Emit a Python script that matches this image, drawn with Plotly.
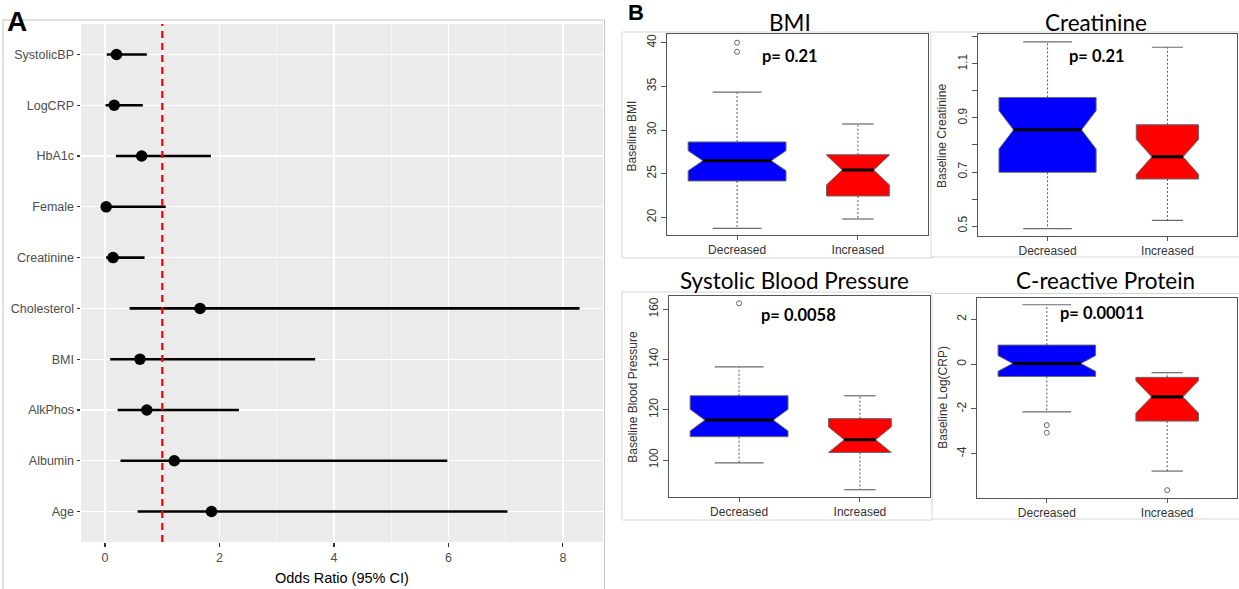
import plotly.graph_objects as go

W, H = 1239, 589


def fx(p):
    return p / W


def fy(p):
    return 1 - p / H


ARIAL = "Liberation Sans, Arial, sans-serif"
CAL = "Lato, Carlito, Calibri, sans-serif"

# ---------------- Panel A data (forest plot) ----------------
predictors = ["SystolicBP", "LogCRP", "HbA1c", "Female", "Creatinine",
              "Cholesterol", "BMI", "AlkPhos", "Albumin", "Age"]
odds_ratio = [0.20, 0.16, 0.64, 0.02, 0.14, 1.66, 0.61, 0.73, 1.21, 1.86]
ci_lower = [0.03, 0.01, 0.19, 0.00, 0.02, 0.43, 0.09, 0.22, 0.27, 0.57]
ci_upper = [0.73, 0.66, 1.85, 1.06, 0.69, 8.29, 3.67, 2.34, 5.98, 7.03]
or_ticks = [0, 2, 4, 6, 8]
or_reference = 1

# ---------------- Panel B data (notched box plots) ----------------
groups = ["Decreased", "Increased"]
group_colors = ["#0000FF", "#FF0000"]
group_widths = [0.81, 0.52]
group_notchwidths = [0.15, 0.25]

bmi_q1 = [24.16, 22.44]
bmi_median = [26.48, 25.42]
bmi_q3 = [28.63, 27.17]
bmi_lower = [18.74, 19.80]
bmi_upper = [34.35, 30.69]
bmi_notch = [1.15, 1.70]
bmi_outliers = [[38.97, 40.0], []]
bmi_ticks = [20, 25, 30, 35, 40]
bmi_ticktext = ["20", "25", "30", "35", "40"]

creat_q1 = [0.699, 0.674]
creat_median = [0.856, 0.756]
creat_q3 = [0.976, 0.875]
creat_lower = [0.490, 0.521]
creat_upper = [1.182, 1.162]
creat_notch = [0.071, 0.065]
creat_outliers = [[], []]
creat_ticks = [0.5, 0.6, 0.7, 0.8, 0.9, 1.0, 1.1, 1.2]
creat_ticktext = ["0.5", "", "0.7", "", "0.9", "", "1.1", ""]

sbp_q1 = [109.3, 103.0]
sbp_median = [115.9, 108.1]
sbp_q3 = [125.6, 116.5]
sbp_lower = [98.9, 88.2]
sbp_upper = [137.1, 125.6]
sbp_notch = [4.3, 5.1]
sbp_outliers = [[162.4], []]
sbp_ticks = [100, 120, 140, 160]
sbp_ticktext = ["100", "120", "140", "160"]

crp_q1 = [-0.55, -2.54]
crp_median = [0.03, -1.46]
crp_q3 = [0.85, -0.59]
crp_lower = [-2.125, -4.77]
crp_upper = [2.65, -0.38]
crp_notch = [0.35, 0.72]
crp_outliers = [[-2.72, -3.06], [-5.62]]
crp_ticks = [-4, -2, 0, 2]
crp_ticktext = ["-4", "-2", "0", "2"]

panels = [
    dict(title="BMI", ytitle="Baseline BMI", pval="p= 0.21",
         q1=bmi_q1, med=bmi_median, q3=bmi_q3, lo=bmi_lower, hi=bmi_upper,
         notch=bmi_notch, out=bmi_outliers, ticks=bmi_ticks, ticktext=bmi_ticktext,
         yrange=[17.97, 41.0], xdom=(667, 928), ydom=(34, 235),
         title_xy=(790, 22), p_xy=(790, 56), yt_xy=(631.7, 135.7)),
    dict(title="Creatinine", ytitle="Baseline Creatinine", pval="p= 0.21",
         q1=creat_q1, med=creat_median, q3=creat_q3, lo=creat_lower, hi=creat_upper,
         notch=creat_notch, out=creat_outliers, ticks=creat_ticks, ticktext=creat_ticktext,
         yrange=[0.463, 1.211], xdom=(978, 1237), ydom=(34, 236),
         title_xy=(1096, 22), p_xy=(1096.5, 56), yt_xy=(942, 136)),
    dict(title="Systolic Blood Pressure", ytitle="Baseline Blood Pressure", pval="p= 0.0058",
         q1=sbp_q1, med=sbp_median, q3=sbp_q3, lo=sbp_lower, hi=sbp_upper,
         notch=sbp_notch, out=sbp_outliers, ticks=sbp_ticks, ticktext=sbp_ticktext,
         yrange=[85.3, 165.3], xdom=(669, 930), ydom=(296, 497),
         title_xy=(794, 281), p_xy=(798.7, 315), yt_xy=(633, 396.7)),
    dict(title="C-reactive Protein", ytitle="Baseline Log(CRP)", pval="p= 0.00011",
         q1=crp_q1, med=crp_median, q3=crp_q3, lo=crp_lower, hi=crp_upper,
         notch=crp_notch, out=crp_outliers, ticks=crp_ticks, ticktext=crp_ticktext,
         yrange=[-5.97, 2.95], xdom=(977, 1237), ydom=(298, 498),
         title_xy=(1105, 281), p_xy=(1102, 313.3), yt_xy=(942.3, 397.5)),
]

fig = go.Figure()

# ---------------- Panel A traces ----------------
fig.add_trace(go.Scatter(
    x=odds_ratio, y=predictors, mode="markers",
    marker=dict(color="black", size=11.5),
    error_x=dict(type="data", symmetric=False,
                 array=[h - o for h, o in zip(ci_upper, odds_ratio)],
                 arrayminus=[o - l for o, l in zip(odds_ratio, ci_lower)],
                 width=0, thickness=2.6, color="black"),
    xaxis="x", yaxis="y", showlegend=False, hoverinfo="skip"))

layout = dict(
    width=W, height=H, margin=dict(l=0, r=0, t=0, b=0),
    paper_bgcolor="white", plot_bgcolor="white",
    showlegend=False, hovermode=False,
    xaxis=dict(domain=[fx(81), fx(603)], anchor="y", range=[-0.42, 8.7],
               tickvals=or_ticks, ticks="outside", ticklen=3.5, tickwidth=1.1,
               tickcolor="#333333", showgrid=True, gridcolor="white", gridwidth=1.3,
               zeroline=False, showline=False,
               minor=dict(dtick=1, tick0=0, showgrid=True, gridcolor="white", gridwidth=0.6),
               tickfont=dict(family=ARIAL, size=12.5, color="#4D4D4D")),
    yaxis=dict(domain=[fy(542), fy(24)], anchor="x", type="category",
               categoryorder="array", categoryarray=predictors,
               range=[len(predictors) - 0.4, -0.6],
               ticks="outside", ticklen=3.5, tickwidth=1.1, tickcolor="#333333",
               showgrid=True, gridcolor="white", gridwidth=1.3, zeroline=False,
               showline=False,
               tickfont=dict(family=ARIAL, size=12.5, color="#4D4D4D")),
)

shapes = [
    dict(type="rect", xref="x domain", yref="y domain", x0=0, x1=1, y0=0, y1=1,
         fillcolor="#EBEBEB", line=dict(width=0), layer="below"),
    dict(type="line", xref="x", yref="y domain", x0=or_reference, x1=or_reference,
         y0=0, y1=1, line=dict(color="red", width=2.2, dash="7px,5px")),
    # panel A outer frame
    dict(type="line", xref="paper", yref="paper", x0=fx(3), x1=fx(3), y0=fy(20), y1=0,
         line=dict(color="#C4C4C4", width=1)),
    dict(type="line", xref="paper", yref="paper", x0=fx(3), x1=fx(604.5), y0=fy(20), y1=fy(20),
         line=dict(color="#C4C4C4", width=1)),
    dict(type="line", xref="paper", yref="paper", x0=fx(604.5), x1=fx(604.5), y0=fy(20), y1=0,
         line=dict(color="#C4C4C4", width=1)),
    # panel B image frames
    dict(type="rect", xref="paper", yref="paper", x0=fx(622), x1=fx(931), y0=fy(258), y1=fy(32),
         line=dict(color="#D6D6D6", width=1)),
    dict(type="line", xref="paper", yref="paper", x0=fx(932), x1=1, y0=fy(32), y1=fy(32),
         line=dict(color="#D6D6D6", width=1)),
    dict(type="line", xref="paper", yref="paper", x0=fx(931), x1=1, y0=fy(257), y1=fy(257),
         line=dict(color="#D6D6D6", width=1)),
    dict(type="rect", xref="paper", yref="paper", x0=fx(622), x1=fx(932), y0=fy(520), y1=fy(292),
         line=dict(color="#D6D6D6", width=1)),
    dict(type="line", xref="paper", yref="paper", x0=fx(934), x1=1, y0=fy(293.5), y1=fy(293.5),
         line=dict(color="#D6D6D6", width=1)),
    dict(type="line", xref="paper", yref="paper", x0=fx(932), x1=1, y0=fy(519), y1=fy(519),
         line=dict(color="#D6D6D6", width=1)),
]

annotations = [
    dict(text="<b>A</b>", x=fx(16.5), y=fy(21), xref="paper", yref="paper",
         showarrow=False, font=dict(family=ARIAL, size=28, color="black"),
         xanchor="center", yanchor="middle"),
    dict(text="<b>B</b>", x=fx(636), y=fy(13), xref="paper", yref="paper",
         showarrow=False, font=dict(family=ARIAL, size=22, color="black"),
         xanchor="center", yanchor="middle"),
    dict(text="Odds Ratio (95% CI)", x=fx(342), y=fy(578), xref="paper", yref="paper",
         showarrow=False, font=dict(family=ARIAL, size=14.5, color="black"),
         xanchor="center", yanchor="middle"),
]

# ---------------- Panel B traces ----------------
for k, p in enumerate(panels):
    ax = k + 2
    xa, ya = "x%d" % ax, "y%d" % ax
    for i, g in enumerate(groups):
        bw = group_widths[i]
        nw = group_notchwidths[i]
        fig.add_trace(go.Box(
            x=[i], q1=[p["q1"][i]], median=[p["med"][i]], q3=[p["q3"][i]],
            lowerfence=[p["q1"][i]], upperfence=[p["q3"][i]],
            notched=True, notchspan=[p["notch"][i]], notchwidth=nw,
            width=bw, whiskerwidth=0, boxpoints=False,
            fillcolor=group_colors[i], line=dict(color="#6A6A6A", width=1),
            xaxis=xa, yaxis=ya, showlegend=False, hoverinfo="skip", name=g))
        # median bar (spans the notch waist)
        half = bw / 2 * (1 - 2 * nw)
        fig.add_trace(go.Scatter(
            x=[i - half, i + half], y=[p["med"][i], p["med"][i]], mode="lines",
            line=dict(color="black", width=3), xaxis=xa, yaxis=ya,
            showlegend=False, hoverinfo="skip"))
        # dashed whiskers
        fig.add_trace(go.Scatter(
            x=[i, i, None, i, i],
            y=[p["q3"][i], p["hi"][i], None, p["q1"][i], p["lo"][i]],
            mode="lines", line=dict(color="#555555", width=1, dash="2px,2px"),
            xaxis=xa, yaxis=ya, showlegend=False, hoverinfo="skip"))
        # staples
        cw = bw / 4
        fig.add_trace(go.Scatter(
            x=[i - cw, i + cw, None, i - cw, i + cw],
            y=[p["hi"][i], p["hi"][i], None, p["lo"][i], p["lo"][i]],
            mode="lines", line=dict(color="#6A6A6A", width=1.2),
            xaxis=xa, yaxis=ya, showlegend=False, hoverinfo="skip"))
        if p["out"][i]:
            fig.add_trace(go.Scatter(
                x=[i] * len(p["out"][i]), y=p["out"][i], mode="markers",
                marker=dict(symbol="circle-open", size=5, color="#666666",
                            line=dict(width=1, color="#666666")),
                xaxis=xa, yaxis=ya, showlegend=False, hoverinfo="skip"))

    layout["xaxis%d" % ax] = dict(
        domain=[fx(p["xdom"][0]), fx(p["xdom"][1])], anchor=ya,
        range=[-0.58, 1.58], tickvals=list(range(len(groups))), ticktext=groups,
        ticks="outside", ticklen=4, tickcolor="#555555", showgrid=False, zeroline=False,
        showline=True, mirror=True, linecolor="#555555", linewidth=1,
        tickfont=dict(family=ARIAL, size=12, color="#333333"))
    layout["yaxis%d" % ax] = dict(
        domain=[fy(p["ydom"][1]), fy(p["ydom"][0])], anchor=xa,
        range=p["yrange"], tickvals=p["ticks"], ticktext=p["ticktext"],
        tickangle=-90, ticks="outside", ticklen=5, tickcolor="#555555",
        showgrid=False, zeroline=False, showline=True, mirror=True,
        linecolor="#555555", linewidth=1,
        tickfont=dict(family=ARIAL, size=12, color="#333333"))

    annotations.append(dict(text=p["title"], x=fx(p["title_xy"][0]), y=fy(p["title_xy"][1]),
                            xref="paper", yref="paper", showarrow=False,
                            font=dict(family=CAL, size=22.5, color="black"),
                            xanchor="center", yanchor="middle"))
    annotations.append(dict(text="<b>%s</b>" % p["pval"], x=fx(p["p_xy"][0]), y=fy(p["p_xy"][1]),
                            xref="paper", yref="paper", showarrow=False,
                            font=dict(family=CAL, size=16.5, color="black"),
                            xanchor="center", yanchor="middle"))
    annotations.append(dict(text=p["ytitle"], x=fx(p["yt_xy"][0]), y=fy(p["yt_xy"][1]),
                            xref="paper", yref="paper", showarrow=False, textangle=-90,
                            font=dict(family=ARIAL, size=12, color="#333333"),
                            xanchor="center", yanchor="middle"))

layout["shapes"] = shapes
layout["annotations"] = annotations
fig.update_layout(**layout)

fig.write_html("out.html", config={"displayModeBar": False, "staticPlot": True},
               post_script="document.body.style.margin='0';document.body.style.padding='0';"
                           "document.body.style.overflow='hidden';")
